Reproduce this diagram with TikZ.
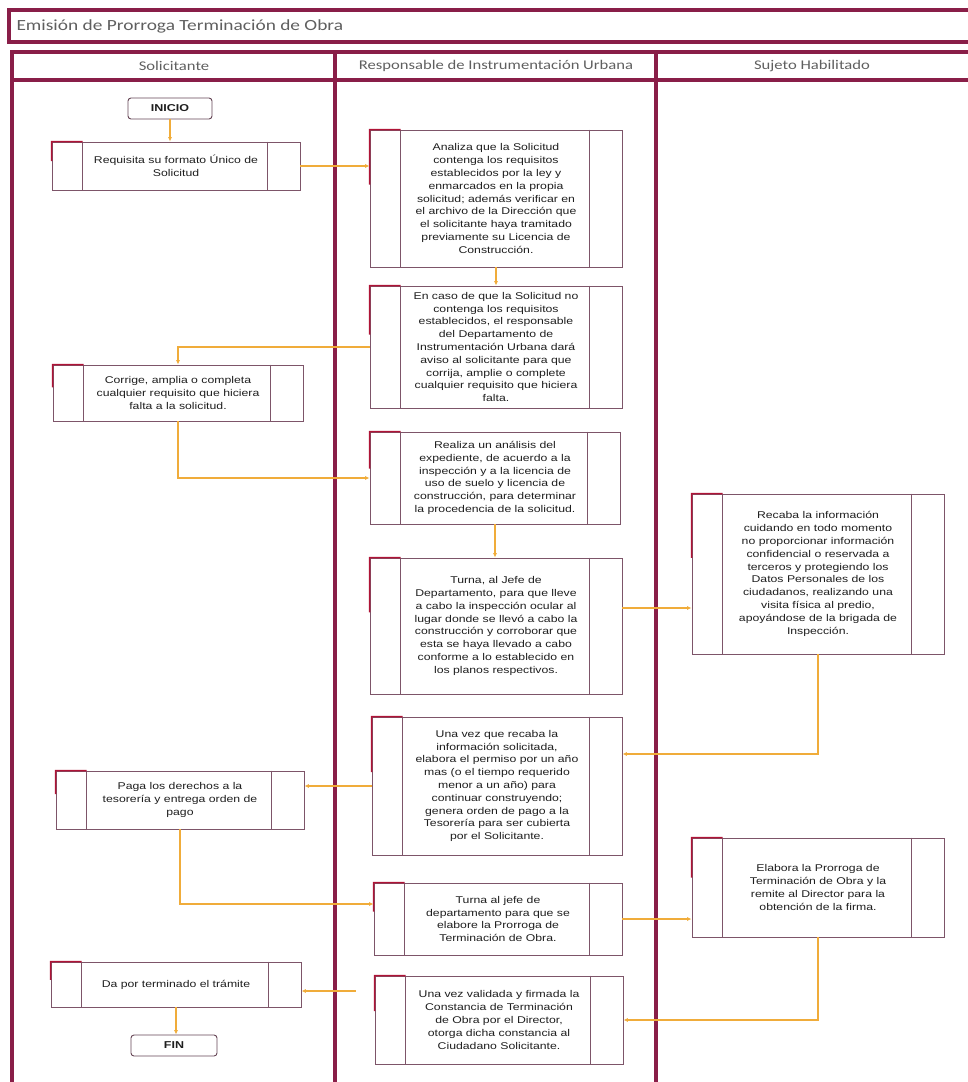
\documentclass[tikz,border=0pt]{standalone}
\usepackage{fontspec}
\setmainfont{Liberation Sans}[FakeStretch=1.25]
\newfontfamily\headfont{Carlito}[FakeStretch=1.25]
\usetikzlibrary{arrows.meta,calc}

\definecolor{lanecol}{RGB}{137,30,72}
\definecolor{boxline}{RGB}{125,85,105}
\definecolor{accentcol}{RGB}{175,20,55}
\definecolor{conncol}{RGB}{240,172,58}
\definecolor{txtcol}{RGB}{30,30,30}
\definecolor{headtxt}{RGB}{95,95,95}

\tikzset{
  lane/.style={draw=lanecol, line width=3.5pt},
  proc/.style={draw=boxline, line width=0.8pt, rectangle, inner sep=0pt,
    align=center, text=txtcol, font=\fontsize{9.8}{12.8}\selectfont},
  term/.style={draw=boxline!80!black, line width=0.9pt, rectangle, rounded corners=3pt,
    inner sep=0pt, text=txtcol, font=\fontsize{10}{11}\selectfont\bfseries},
  conn/.style={draw=conncol, line width=1.6pt, -{Latex[length=4.5pt,width=4pt]}},
  lanehead/.style={text=headtxt, font=\headfont\fontsize{13.3}{15}\selectfont},
}

% process box given by its corners: name, x1, y1, x2, y2, text
\newcommand{\procnode}[6]{%
  \node[proc, minimum width={#4-#2}, minimum height={#5-#3}] (#1)
    at ({(#2+#4)/2},{(#3+#5)/2}) {#6};}
% start / end terminal given by its corners
\newcommand{\termnode}[6]{%
  \node[term, minimum width={#4-#2}, minimum height={#5-#3}] (#1)
    at ({(#2+#4)/2},{(#3+#5)/2}) {#6};}

\begin{document}
\begin{tikzpicture}[x=1pt,y=-1pt]
\useasboundingbox (0,0) rectangle (967,1082);

% title bar
\draw[lane] (9,10) rectangle (985,42);
\node[anchor=west, text=headtxt, font=\headfont\fontsize{15.5}{18}\selectfont]
  (titulo) at (13,26) {Emisión de Prorroga Terminación de Obra};

% swimlanes
\draw[lane] (12,1095) -- (12,52) -- (985,52);
\draw[lane] (12,80) -- (985,80);
\draw[lane] (335,52) -- (335,1095);
\draw[lane] (656,52) -- (656,1095);
\node[lanehead] (h1) at (174,66) {Solicitante};
\node[lanehead] (h2) at (496,66) {Responsable de Instrumentación Urbana};
\node[lanehead] (h3) at (812,66) {Sujeto Habilitado};

% terminals
\termnode{inicio}{128}{98}{212}{119}{INICIO}
\termnode{fin}{131}{1035}{217}{1056}{FIN}

% process boxes
\procnode{req}{52}{142}{300}{190}{Requisita su formato Único de\\Solicitud}
\procnode{analiza}{370}{130}{622}{267}{Analiza que la Solicitud\\contenga los requisitos\\establecidos por la ley y\\enmarcados en la propia\\solicitud; además verificar en\\el archivo de la Dirección que\\el solicitante haya tramitado\\previamente su Licencia de\\Construcción.}
\procnode{encaso}{370}{286}{622}{408}{En caso de que la Solicitud no\\contenga los requisitos\\establecidos, el responsable\\del Departamento de\\Instrumentación Urbana dará\\aviso al solicitante para que\\corrija, amplie o complete\\cualquier requisito que hiciera\\falta.}
\procnode{corrige}{53}{365}{303}{421}{Corrige, amplia o completa\\cualquier requisito que hiciera\\falta a la solicitud.}
\procnode{realiza}{370}{432}{620}{524}{Realiza un análisis del\\expediente, de acuerdo a la\\inspección y a la licencia de\\uso de suelo y licencia de\\construcción, para determinar\\la procedencia de la solicitud.}
\procnode{turnaA}{370}{558}{622}{694}{Turna, al Jefe de\\Departamento, para que lleve\\a cabo la inspección ocular al\\lugar donde se llevó a cabo la\\construcción y corroborar que\\esta se haya llevado a cabo\\conforme a lo establecido en\\los planos respectivos.}
\procnode{recaba}{692}{494}{944}{654}{Recaba la información\\cuidando en todo momento\\no proporcionar información\\confidencial o reservada a\\terceros y protegiendo los\\Datos Personales de los\\ciudadanos, realizando una\\visita física al predio,\\apoyándose de la brigada de\\Inspección.}
\procnode{unavez}{372}{717}{622}{855}{Una vez que recaba la\\información solicitada,\\elabora el permiso por un año\\mas (o el tiempo requerido\\menor a un año) para\\continuar construyendo;\\genera orden de pago a la\\Tesorería para ser cubierta\\por el Solicitante.}
\procnode{paga}{56}{771}{304}{829}{Paga los derechos a la\\tesorería y entrega orden de\\pago}
\procnode{turnaB}{374}{883}{622}{955}{Turna al jefe de\\departamento para que se\\elabore la Prorroga de\\Terminación de Obra.}
\procnode{elabora}{692}{838}{944}{937}{Elabora la Prorroga de\\Terminación de Obra y la\\remite al Director para la\\obtención de la firma.}
\procnode{validada}{375}{976}{623}{1064}{Una vez validada y firmada la\\Constancia de Terminación\\de Obra por el Director,\\otorga dicha constancia al\\Ciudadano Solicitante.}
\procnode{dapor}{51}{962}{301}{1007}{Da por terminado el trámite}

% side cells and red corner mark of every process box
\foreach \n in {req,analiza,encaso,corrige,realiza,turnaA,recaba,unavez,paga,turnaB,elabora,validada,dapor}{
  \draw[boxline, line width=0.8pt] ([xshift=31pt]\n.north west) -- ([xshift=31pt]\n.south west);
  \draw[boxline, line width=0.8pt] ([xshift=-33pt]\n.north east) -- ([xshift=-33pt]\n.south east);
  \draw[accentcol, line width=1.5pt] ($(\n.north west)!0.4!(\n.south west)$) -- (\n.north west) -- ([xshift=31pt]\n.north west);
}

% connectors
\draw[conn] (inicio.south) -- (inicio.south |- req.north);
\draw[conn] (req.east) -- (req.east -| analiza.west);
\draw[conn] (analiza.south) -- (analiza.south |- encaso.north);
\draw[conn] (encaso.west) -| (corrige.north);
\draw[conn] (corrige.south) |- (realiza.west);
\draw[conn] (realiza.south) -- (realiza.south |- turnaA.north);
\draw[conn] ([yshift=18pt]turnaA.east) -- ([yshift=18pt]turnaA.east -| recaba.west);
\draw[conn] (recaba.south) |- ([yshift=32pt]unavez.east);
\draw[conn] (unavez.west) -- (unavez.west -| paga.east);
\draw[conn] (paga.south) |- ([yshift=15pt]turnaB.west);
\draw[conn] (turnaB.east) -- (turnaB.east -| elabora.west);
\draw[conn] (elabora.south) |- (validada.east);
\draw[conn, shorten <=19pt] ([yshift=29pt]validada.west) -- ([yshift=29pt]validada.west -| dapor.east);
\draw[conn] (dapor.south) -- (dapor.south |- fin.north);
\end{tikzpicture}
\end{document}
